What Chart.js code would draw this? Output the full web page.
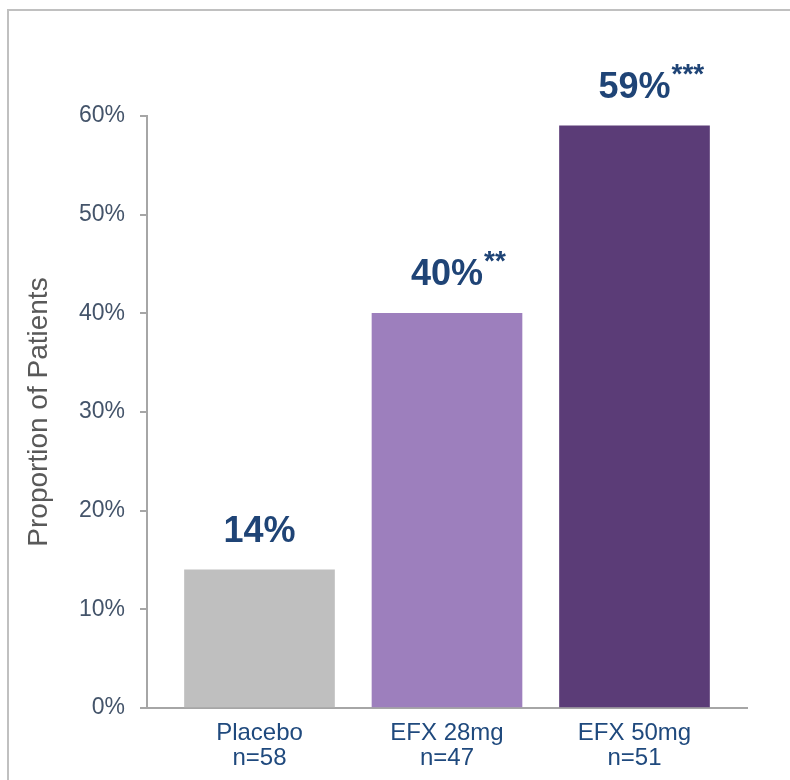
<!DOCTYPE html>
<html>
<head>
<meta charset="utf-8">
<script src="https://cdn.jsdelivr.net/npm/chart.js@4.4.1/dist/chart.umd.min.js"></script>
<style>
	html, body { margin: 0; padding: 0; background: #fff; overflow: hidden; }
	#wrap { position: relative; width: 790px; height: 780px; }
	#frame {
		position: absolute; left: 7px; top: 9px; width: 1000px; height: 1000px;
		border-left: 2px solid #c0c0c0; border-top: 2px solid #c0c0c0;
	}
	#chart { position: absolute; left: 0; top: 0; }
</style>
</head>
<body>
<div id="wrap">
	<div id="frame"></div>
	<canvas id="chart" width="790" height="780"></canvas>
</div>
<script>
var groups = ["Placebo", "EFX 28mg", "EFX 50mg"];
var counts = ["n=58", "n=47", "n=51"];
var responders = [14, 40, 59];
var significance = ["", "**", "***"];
var barColors = ["#bfbfbf", "#9d7fbd", "#5b3c77"];
var yTicks = [0, 10, 20, 30, 40, 50, 60];

var fontFamily = "'Liberation Sans', Arial, sans-serif";
var axisGray = "#a6a6a6";
var navy = "#1f4476";

// percentage above each bar, with the significance stars as a superscript
var valueLabels = {
	id: "valueLabels",
	afterDatasetsDraw: function(chart) {
		var ctx = chart.ctx;
		var meta = chart.getDatasetMeta(0);
		ctx.save();
		ctx.fillStyle = navy;
		ctx.textBaseline = "alphabetic";
		meta.data.forEach(function(bar, i) {
			var text = responders[i] + "%";
			var baseline = bar.y - 28;
			ctx.font = "bold 36px " + fontFamily;
			ctx.textAlign = "center";
			ctx.fillText(text, bar.x, baseline);
			if (significance[i]) {
				var half = ctx.measureText(text).width / 2;
				ctx.font = "bold 28px " + fontFamily;
				ctx.textAlign = "left";
				ctx.fillText(significance[i], bar.x + half + 1, baseline - 15);
			}
		});
		ctx.restore();
	}
};

new Chart(document.getElementById("chart").getContext("2d"), {
	type: "bar",
	data: {
		datasets: [{
			data: responders.map(function(v, i) { return { x: i, y: v }; }),
			backgroundColor: barColors,
			hoverBackgroundColor: barColors,
			borderWidth: 0,
			barThickness: 150
		}]
	},
	options: {
		responsive: false,
		animation: false,
		devicePixelRatio: 1,
		layout: { padding: { top: 116, right: 43, left: 0, bottom: 0 } },
		plugins: {
			legend: { display: false },
			tooltip: { enabled: false }
		},
		scales: {
			x: {
				type: "linear",
				offset: false,
				min: -0.6,
				max: 2.6,
				afterBuildTicks: function(scale) {
					scale.ticks = groups.map(function(g, i) { return { value: i }; });
				},
				afterFit: function(scale) { scale.height = 72; },
				grid: { display: false },
				border: { display: true, color: axisGray, width: 2 },
				ticks: {
					autoSkip: false,
					maxRotation: 0,
					padding: 5,
					color: "#1f497d",
					font: { family: fontFamily, size: 24, lineHeight: 1.05 },
					callback: function(v) { return [groups[v], counts[v]]; }
				}
			},
			y: {
				min: 0,
				max: 60,
				afterBuildTicks: function(scale) {
					scale.ticks = yTicks.map(function(v) { return { value: v }; });
				},
				afterFit: function(scale) { scale.width = 147; },
				grid: {
					drawOnChartArea: false,
					tickLength: 7,
					color: axisGray,
					lineWidth: 2
				},
				border: { display: true, color: axisGray, width: 2 },
				title: {
					display: true,
					text: "Proportion of Patients",
					color: "#595959",
					font: { family: fontFamily, size: 28 },
					padding: { top: 22, bottom: 0 }
				},
				ticks: {
					padding: 15,
					color: "#44546a",
					font: { family: fontFamily, size: 23 },
					callback: function(v) { return v + "%"; }
				}
			}
		}
	},
	plugins: [valueLabels]
});
</script>
</body>
</html>
